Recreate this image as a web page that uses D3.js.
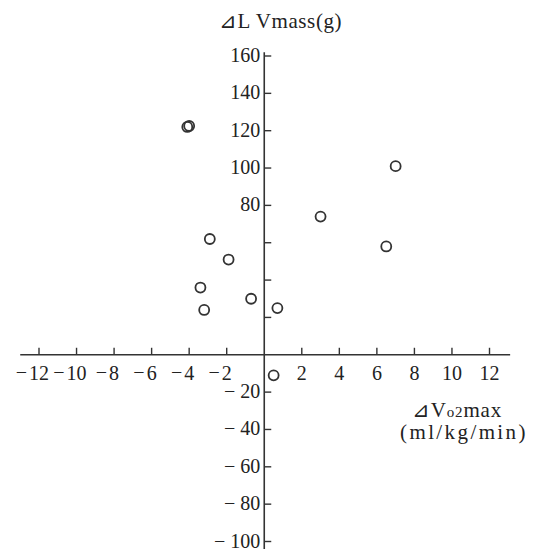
<!DOCTYPE html>
<html>
<head>
<meta charset="utf-8">
<script src="https://cdn.jsdelivr.net/npm/d3@7"></script>
<style>
  body { margin: 0; background: #fff; }
  svg { display: block; }
  text { font-family: "Liberation Serif", "DejaVu Serif", serif; fill: #222; }
</style>
</head>
<body>
<div id="chart"></div>
<script>
"use strict";

// == DATA ==
var vo2Change = [-4.1, -4.0, -2.9, -1.9, -3.4, -3.2, -0.7, 0.7, 0.5, 3.0, 6.5, 7.0];
var lvMassChange = [122, 122.5, 62, 51, 36, 24, 30, 25, -11, 74, 58, 101];
var xTicks = [-12, -10, -8, -6, -4, -2, 2, 4, 6, 8, 10, 12];
var yTicks = [160, 140, 120, 100, 80, 60, 40, 20, -20, -40, -60, -80, -100];
var yLabelled = [160, 140, 120, 100, 80, -20, -40, -60, -80, -100];

var width = 540, height = 549;

var svg = d3.select("#chart")
  .append("svg")
  .attr("width", width)
  .attr("height", height);

var x = d3.scaleLinear().domain([-12, 12]).range([39, 489.5]);
var y = d3.scaleLinear().domain([160, -100]).range([56, 541.5]);

var axisColor = "#333";

// axis lines
svg.append("line")
  .attr("x1", x(-13)).attr("x2", x(13.1))
  .attr("y1", y(0)).attr("y2", y(0))
  .attr("stroke", axisColor).attr("stroke-width", 1.6);

svg.append("line")
  .attr("x1", x(0)).attr("x2", x(0))
  .attr("y1", y(162)).attr("y2", y(-104))
  .attr("stroke", axisColor).attr("stroke-width", 1.6);

// x ticks go up
svg.selectAll(".xtick")
  .data(xTicks)
  .enter().append("line")
  .attr("class", "xtick")
  .attr("x1", function(d){ return x(d); })
  .attr("x2", function(d){ return x(d); })
  .attr("y1", y(0))
  .attr("y2", y(0) - 7)
  .attr("stroke", axisColor).attr("stroke-width", 1.4);

// y ticks go right
svg.selectAll(".ytick")
  .data(yTicks)
  .enter().append("line")
  .attr("class", "ytick")
  .attr("x1", x(0))
  .attr("x2", x(0) + 7)
  .attr("y1", function(d){ return y(d); })
  .attr("y2", function(d){ return y(d); })
  .attr("stroke", axisColor).attr("stroke-width", 1.4);

// x tick labels: digits centred on the tick, minus set in front
var xLab = svg.selectAll(".xlab")
  .data(xTicks)
  .enter().append("g")
  .attr("class", "xlab");

xLab.append("text")
  .attr("class", "digits")
  .attr("x", function(d){ return x(d); })
  .attr("y", y(0) + 25)
  .attr("text-anchor", "middle")
  .style("font-size", "20px")
  .text(function(d){ return Math.abs(d); });

xLab.each(function(d){
  if (d < 0) {
    var g = d3.select(this);
    var w = g.select(".digits").node().getComputedTextLength();
    g.append("text")
      .attr("x", x(d) - w / 2 - 2)
      .attr("y", y(0) + 24)
      .attr("text-anchor", "end")
      .style("font-size", "20px")
      .text("\u2212");
  }
});

// y tick labels
svg.selectAll(".ylab")
  .data(yLabelled)
  .enter().append("text")
  .attr("class", "ylab")
  .attr("x", x(0) - 4)
  .attr("y", function(d){ return y(d) + 6; })
  .attr("text-anchor", "end")
  .style("font-size", "20px")
  .text(function(d){ return d < 0 ? "\u2212 " + Math.abs(d) : d; });

// axis titles
svg.append("text")
  .attr("x", 219)
  .attr("y", 28)
  .style("font-size", "21px")
  .style("letter-spacing", "0.6px")
  .text("\u22BFL Vmass(g)");

var xt = svg.append("text")
  .attr("x", 412)
  .attr("y", 417)
  .style("font-size", "21px")
  .style("letter-spacing", "0.8px");
xt.append("tspan").text("\u22BFV");
xt.append("tspan").style("font-size", "15px").text("o2");
xt.append("tspan").text("max");

svg.append("text")
  .attr("x", 400)
  .attr("y", 439)
  .style("font-size", "21px")
  .style("letter-spacing", "2.4px")
  .text("(ml/kg/min)");

// data points
var pts = vo2Change.map(function(v, i){ return { vo2: v, lv: lvMassChange[i] }; });

svg.selectAll("circle")
  .data(pts)
  .enter().append("circle")
  .attr("cx", function(d){ return x(d.vo2); })
  .attr("cy", function(d){ return y(d.lv); })
  .attr("r", 5)
  .attr("fill", "none")
  .attr("stroke", "#333")
  .attr("stroke-width", 1.8);
</script>
</body>
</html>
